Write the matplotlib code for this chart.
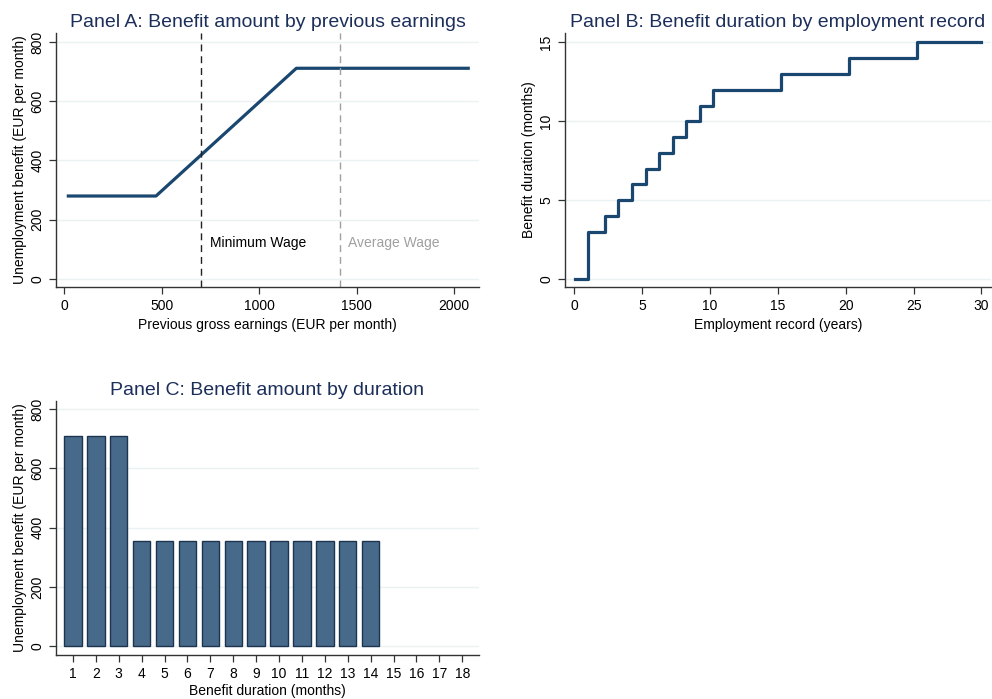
import matplotlib.pyplot as plt
import numpy as np

plt.rcParams['font.family'] = ['Liberation Sans', 'DejaVu Sans']

# Panel A: benefit schedule by previous gross earnings
earnings = [12, 470, 1190, 2080]
benefit_by_earnings = [280, 280, 711, 711]
min_wage = 701
avg_wage = 1412

# Panel B: benefit duration by employment record (years -> months)
record_years = [0.05, 1, 2.25, 3.25, 4.25, 5.25, 6.25, 7.25, 8.25, 9.25, 10.25,
                15.25, 20.25, 25.25, 30]
duration_months = [0, 3, 4, 5, 6, 7, 8, 9, 10, 11, 12, 13, 14, 15, 15]

# Panel C: benefit amount by month of benefit receipt (paid for 14 months)
month_ticks = list(range(1, 19))
paid_months = list(range(1, 15))
benefit_by_month = [711, 711, 711] + [355] * 11

navy = '#1a476f'
title_col = '#1c2e5a'
grid_col = '#eaf2f3'
spine_col = '#333333'

W, H = 992, 699
fig = plt.figure(figsize=(W / 100, H / 100), dpi=100)


def make_axes(left, right, top, bottom):
    ax = fig.add_axes([left / W, (H - bottom) / H, (right - left) / W, (bottom - top) / H])
    for s in ['top', 'right']:
        ax.spines[s].set_visible(False)
    for s in ['left', 'bottom']:
        ax.spines[s].set_color(spine_col)
        ax.spines[s].set_linewidth(1.0)
    ax.tick_params(axis='both', colors=spine_col, labelcolor='black', labelsize=10,
                   length=5, width=0.9)
    ax.grid(axis='y', color=grid_col, lw=1.0)
    ax.set_axisbelow(True)
    return ax


def style_yticks(ax):
    for lab in ax.get_yticklabels():
        lab.set_va('center')
        lab.set_rotation(90)


# Panel A
axA = make_axes(56, 479, 33, 287)
axA.plot(earnings, benefit_by_earnings, color=navy, lw=2.3, solid_capstyle='butt')
axA.axvline(min_wage, color='#222222', lw=1.0, ls=(0, (5, 3.5)))
axA.axvline(avg_wage, color='#a0a0a0', lw=1.0, ls=(0, (5, 3.5)))
axA.text(min_wage + 45, 121, 'Minimum Wage', fontsize=10, color='black', va='center')
axA.text(avg_wage + 45, 121, 'Average Wage', fontsize=10, color='#a0a0a0', va='center')
axA.set_xlim(-43, 2127)
axA.set_ylim(-27, 830)
axA.set_xticks([0, 500, 1000, 1500, 2000])
axA.set_yticks([0, 200, 400, 600, 800])
style_yticks(axA)
axA.set_xlabel('Previous gross earnings (EUR per month)', fontsize=10, labelpad=4)
axA.set_ylabel('Unemployment benefit (EUR per month)', fontsize=10, labelpad=2)
axA.set_title('Panel A: Benefit amount by previous earnings', fontsize=14,
              color=title_col, pad=4)

# Panel B
axB = make_axes(565, 991, 33, 287)
axB.step(record_years, duration_months, where='post', color=navy, lw=2.3)
axB.set_xlim(-0.68, 30.7)
axB.set_ylim(-0.49, 15.59)
axB.set_xticks([0, 5, 10, 15, 20, 25, 30])
axB.set_yticks([0, 5, 10, 15])
style_yticks(axB)
axB.set_xlabel('Employment record (years)', fontsize=10, labelpad=4)
axB.set_ylabel('Benefit duration (months)', fontsize=10, labelpad=2)
axB.set_title('Panel B: Benefit duration by employment record', fontsize=14,
              color=title_col, pad=4)

# Panel C
axC = make_axes(56, 479, 401, 655)
axC.bar(paid_months, benefit_by_month, width=0.76, color='#476a8a', edgecolor='#1c3450',
        linewidth=1.0)
axC.set_xlim(0.26, 18.73)
axC.set_ylim(-30, 828)
axC.set_xticks(month_ticks)
axC.set_yticks([0, 200, 400, 600, 800])
style_yticks(axC)
axC.set_xlabel('Benefit duration (months)', fontsize=10, labelpad=2)
axC.set_ylabel('Unemployment benefit (EUR per month)', fontsize=10, labelpad=2)
axC.set_title('Panel C: Benefit amount by duration', fontsize=14,
              color=title_col, pad=4)

fig.savefig('out.png', dpi=100)
